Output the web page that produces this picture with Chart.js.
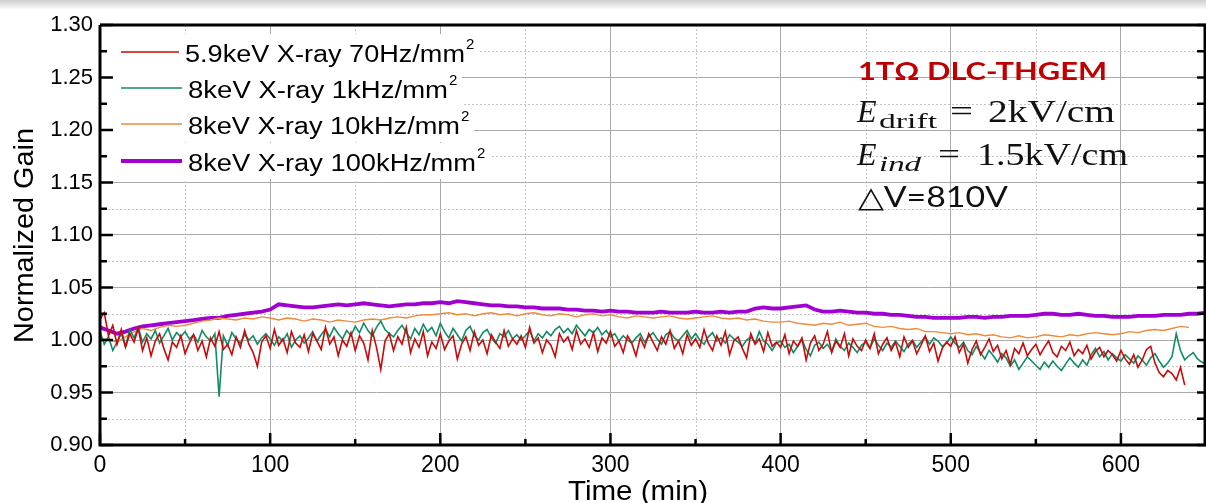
<!DOCTYPE html>
<html>
<head>
<meta charset="utf-8">
<script src="https://cdn.jsdelivr.net/npm/chart.js@4"></script>
<style>
  html, body { margin: 0; padding: 0; background: #fff; }
  canvas { display: block; }
</style>
</head>
<body>
<canvas id="gainChart" width="1206" height="503"></canvas>
<script>
// sampling step of the traces (min)
const STEP_FAST = 2.5;
const STEP_SLOW = 5;

const seriesNames = [
  ['5.9keV X-ray 70Hz/mm', '2'],
  ['8keV X-ray 1kHz/mm', '2'],
  ['8keV X-ray 10kHz/mm', '2'],
  ['8keV X-ray 100kHz/mm', '2']
];
const xTitle = 'Time (min)';
const yTitle = 'Normalized Gain';

// 5.9keV, 70Hz/mm2, every 2.5 min from 0
const red70Hz = [
  1.020, 1.026, 1.004, 1.014, 0.996, 1.010, 0.993, 1.006, 0.998, 1.011,
  0.990, 1.002, 0.985, 0.999, 1.006, 0.992, 0.981, 0.998, 0.993, 1.004,
  0.987, 0.997, 1.005, 0.990, 0.999, 0.984, 1.002, 0.994, 1.008, 0.991,
  0.996, 0.986, 1.003, 0.993, 1.009, 0.996, 0.988, 0.975, 0.998, 1.004,
  0.992, 1.010, 0.995, 1.001, 0.988, 1.008, 0.997, 0.993, 1.005, 0.989,
  1.006, 0.999, 0.991, 1.012, 0.996, 1.003, 0.985, 1.000, 0.994, 1.007,
  0.990, 1.004, 0.997, 0.981, 1.009, 0.993, 0.972, 0.999, 1.006, 0.990,
  1.003, 0.996, 1.012, 0.988, 1.001, 0.993, 1.008, 0.985, 0.998, 0.992,
  1.006, 0.991, 0.999, 1.004, 0.982, 0.996, 1.003, 0.990, 1.008, 0.995,
  1.000, 0.987, 1.005, 0.998, 0.992, 1.009, 0.994, 1.001, 0.996, 1.004,
  0.993, 1.012, 0.997, 1.002, 0.988, 1.000, 0.995, 0.984, 1.006, 0.998,
  1.003, 0.991, 1.009, 0.996, 1.001, 0.993, 1.007, 0.989, 1.002, 0.997,
  1.008, 0.994, 0.999, 0.988, 1.004, 0.997, 0.985, 1.002, 0.993, 1.006,
  0.998, 0.990, 1.003, 0.996, 1.009, 0.992, 0.999, 0.987, 1.005, 0.995,
  1.001, 0.993, 1.010, 0.997, 0.990, 1.004, 0.995, 1.008, 0.986, 0.999,
  1.003, 0.992, 0.983, 1.006, 0.996, 1.001, 0.989, 1.007, 0.994, 0.998,
  0.993, 1.005, 0.987, 0.999, 0.994, 1.002, 0.981, 0.997, 1.004, 0.990,
  0.996, 1.008, 0.988, 0.999, 0.993, 1.006, 0.985, 1.001, 0.994, 0.990,
  1.000, 0.992, 1.006, 0.987, 0.996, 1.002, 0.990, 0.998, 0.984, 1.003,
  0.993, 0.999, 0.987, 0.995, 1.004, 0.989, 0.997, 0.980, 0.992, 0.998,
  0.994, 1.003, 0.988, 0.996, 0.978, 0.991, 0.999, 0.986, 0.993, 1.001,
  0.989, 0.995, 0.982, 0.990, 0.977, 0.992, 0.987, 0.997, 0.985, 0.991,
  0.996, 0.986, 0.993, 0.999, 0.988, 0.984, 0.994, 0.990, 0.998, 0.985,
  0.991, 0.987, 0.995, 0.982, 0.989, 0.993, 0.984, 0.990, 0.986, 0.980,
  0.990, 0.982, 0.977, 0.986, 0.974, 0.981, 0.991, 0.994, 0.978, 0.969,
  0.965, 0.971, 0.968, 0.962, 0.974, 0.957
];

// 8keV, 1kHz/mm2, every 2.5 min from 0
const green1kHz = [
  1.008, 0.996, 1.003, 0.990, 0.998, 1.006, 0.994, 1.010, 1.002, 1.012,
  0.998, 1.006, 1.001, 1.009, 0.997, 1.004, 1.011, 1.000, 1.007, 1.003,
  1.008, 1.001, 1.005, 0.998, 1.009, 1.003, 0.999, 1.006, 0.946, 1.004,
  0.995, 1.007, 1.001, 0.997, 1.005, 1.000, 1.004, 0.996, 1.002, 1.006,
  1.001, 0.995, 1.003, 0.999, 1.006, 0.993, 1.000, 1.004, 0.997, 1.002,
  1.008, 0.999, 1.005, 1.010, 1.003, 1.012, 1.006, 1.001, 1.009, 1.004,
  1.013, 1.007, 1.016, 1.009, 1.004, 1.012, 1.018, 1.010, 1.006, 1.003,
  1.009, 1.014, 1.007, 1.001, 1.011, 1.005, 1.015, 1.008, 1.012, 1.004,
  1.016, 1.008, 1.002, 1.011, 1.005, 0.999, 1.009, 1.013, 1.004, 1.000,
  1.007, 1.010, 1.002, 0.997, 1.006, 1.003, 1.009, 1.001, 1.005, 1.000,
  1.004, 1.009, 0.999, 1.006, 1.002, 1.008, 1.004, 1.010, 1.013, 1.007,
  1.011, 1.006, 1.014, 1.009, 1.004, 1.010, 1.007, 1.012, 1.005, 1.009,
  1.003, 1.006, 0.999, 1.004, 1.000, 0.997, 1.002, 1.006, 0.998, 1.003,
  1.007, 1.001, 0.996, 1.005, 1.008, 1.002, 0.999, 1.004, 1.009, 1.001,
  1.006, 1.000, 0.996, 1.003, 1.007, 0.999, 1.002, 0.997, 1.005, 1.001,
  0.998, 0.994, 1.000, 1.003, 0.997, 1.008, 0.999, 0.996, 0.990, 0.997,
  0.999, 0.993, 0.996, 0.988, 0.994, 1.000, 0.991, 0.985, 0.995, 0.998,
  0.992, 0.996, 0.989, 1.001, 0.994, 0.990, 0.997, 0.993, 0.988, 0.995,
  0.998, 0.992, 1.001, 0.995, 0.990, 0.997, 0.993, 0.999, 0.994, 0.989,
  0.996, 1.000, 0.993, 0.998, 1.003, 0.996, 1.002, 0.999, 0.994, 0.997,
  1.003, 0.997, 0.993, 0.998, 0.990, 0.986, 0.994, 0.988, 0.982, 0.990,
  0.985, 0.979, 0.987, 0.983, 0.975, 0.981, 0.972, 0.978, 0.984, 0.980,
  0.976, 0.972, 0.979, 0.974, 0.980, 0.975, 0.971, 0.977, 0.983, 0.978,
  0.974, 0.981, 0.976, 0.986, 0.992, 0.984, 0.989, 0.981, 0.987, 0.983,
  0.980, 0.986, 0.982, 0.978, 0.985, 0.981, 0.976, 0.983, 0.987, 0.980,
  0.974, 0.978, 0.984, 1.006, 0.990, 0.981, 0.985, 0.988, 0.982, 0.979,
  0.977
];

// 8keV, 10kHz/mm2, every 5 min from 0
const orange10kHz = [
  1.002, 1.000, 0.998, 1.003, 1.008, 1.011, 1.009, 1.012, 1.014, 1.013,
  1.014, 1.016, 1.018, 1.019, 1.021, 1.020, 1.019, 1.021, 1.020, 1.022,
  1.021, 1.019, 1.021, 1.020, 1.018, 1.020, 1.019, 1.017, 1.019, 1.018,
  1.017, 1.019, 1.020, 1.019, 1.021, 1.022, 1.021, 1.023, 1.024, 1.024,
  1.025, 1.026, 1.024, 1.025, 1.023, 1.025, 1.026, 1.024, 1.025, 1.023,
  1.025, 1.026, 1.024, 1.023, 1.025, 1.024, 1.022, 1.024, 1.025, 1.023,
  1.024, 1.022, 1.021, 1.023, 1.022, 1.021, 1.022, 1.023, 1.021, 1.020,
  1.021, 1.022, 1.023, 1.021, 1.020, 1.021, 1.019, 1.020, 1.018, 1.017,
  1.017, 1.018, 1.016, 1.015, 1.014, 1.016, 1.015, 1.017, 1.014, 1.015,
  1.016, 1.013, 1.012, 1.013, 1.011, 1.010, 1.011, 1.008, 1.008, 1.007,
  1.006, 1.007, 1.005, 1.006, 1.004, 1.005, 1.003, 1.002, 1.004, 1.002,
  1.003, 1.005, 1.004, 1.003, 1.005, 1.004, 1.006, 1.007, 1.006, 1.005,
  1.006, 1.008, 1.007, 1.009, 1.010, 1.009, 1.011, 1.013, 1.012
];

// 8keV, 100kHz/mm2, every 5 min from 0
const purple100kHz = [
  1.012, 1.009, 1.006, 1.008, 1.011, 1.013, 1.014, 1.015, 1.016, 1.017,
  1.018, 1.019, 1.020, 1.021, 1.021, 1.023, 1.024, 1.025, 1.026, 1.027,
  1.029, 1.034, 1.033, 1.032, 1.031, 1.031, 1.032, 1.033, 1.034, 1.033,
  1.034, 1.035, 1.034, 1.033, 1.032, 1.033, 1.034, 1.034, 1.035, 1.035,
  1.036, 1.035, 1.037, 1.036, 1.035, 1.034, 1.033, 1.033, 1.032, 1.032,
  1.031, 1.031, 1.030, 1.030, 1.030, 1.029, 1.029, 1.028, 1.028, 1.027,
  1.028, 1.027, 1.027, 1.026, 1.026, 1.026, 1.027, 1.026, 1.026, 1.026,
  1.027, 1.026, 1.026, 1.027, 1.026, 1.027, 1.027, 1.030, 1.031, 1.030,
  1.030, 1.031, 1.032, 1.033, 1.029, 1.027, 1.027, 1.028, 1.027, 1.026,
  1.026, 1.025, 1.025, 1.024, 1.024, 1.023, 1.022, 1.022, 1.021, 1.021,
  1.021, 1.021, 1.022, 1.022, 1.021, 1.022, 1.022, 1.023, 1.023, 1.023,
  1.024, 1.025, 1.025, 1.024, 1.024, 1.025, 1.024, 1.023, 1.023, 1.022,
  1.022, 1.022, 1.023, 1.023, 1.023, 1.024, 1.024, 1.024, 1.025, 1.025,
  1.026
];

const yTicks = { min: 0.90, max: 1.30, step: 0.05 };
const xTicks = { min: 0, max: 650, step: 100 };

const colors = ['#c80a0a', '#128a66', '#f08a3a', '#a000d0'];
const widths = [1.6, 1.6, 1.4, 3.8];

const toPoints = (arr, step) => arr.map((v, i) => ({ x: i * step, y: v }));

const SANS = '"Liberation Sans", Arial, sans-serif';
const SERIF = '"Liberation Serif", "DejaVu Serif", serif';

// draw text squeezed/stretched to a given width
function fitText(ctx, text, x, y, font, w) {
  ctx.font = font;
  const m = ctx.measureText(text).width;
  ctx.save();
  ctx.translate(x, y);
  ctx.scale(w / m, 1);
  ctx.fillText(text, 0, 0);
  ctx.restore();
}

const pagePlugin = {
  id: 'page',
  beforeDraw(chart) {
    const ctx = chart.ctx;
    ctx.save();
    ctx.fillStyle = '#fff';
    ctx.fillRect(0, 0, chart.width, chart.height);
    const g = ctx.createLinearGradient(0, 0, 0, 10);
    g.addColorStop(0, '#cfcfcf');
    g.addColorStop(1, '#ffffff');
    ctx.fillStyle = g;
    ctx.fillRect(0, 0, chart.width, 10);
    ctx.restore();
  },
  beforeDatasetsDraw(chart) {
    // dashed minor grid
    const { ctx, chartArea: a, scales: { x, y } } = chart;
    ctx.save();
    ctx.strokeStyle = '#c4c4c4';
    ctx.lineWidth = 1;
    ctx.setLineDash([2, 2]);
    ctx.beginPath();
    for (let v = yTicks.min + yTicks.step / 2; v < yTicks.max; v += yTicks.step) {
      const py = Math.round(y.getPixelForValue(v)) + 0.5;
      ctx.moveTo(a.left, py); ctx.lineTo(a.right, py);
    }
    for (let v = xTicks.min + xTicks.step / 2; v < xTicks.max; v += xTicks.step) {
      const px = Math.round(x.getPixelForValue(v)) + 0.5;
      ctx.moveTo(px, a.top); ctx.lineTo(px, a.bottom);
    }
    ctx.stroke();
    ctx.restore();
  },
  afterDatasetsDraw(chart) {
    const ctx = chart.ctx;
    const a = chart.chartArea;
    ctx.save();
    // legend
    const rows = [52, 88, 124, 161];
    const textW = [280, 260, 272, 288];
    ctx.textBaseline = 'alphabetic';
    rows.forEach((ry, i) => {
      const tx = i === 0 ? 185 : 188;
      ctx.fillStyle = '#fff';
      ctx.fillRect(a.left + 3, ry - 18, tx + textW[i] + 14 - a.left - 3, 36);
      ctx.strokeStyle = colors[i];
      ctx.lineWidth = widths[i];
      ctx.beginPath();
      ctx.moveTo(121, ry); ctx.lineTo(tx - 6, ry);
      ctx.stroke();
      ctx.fillStyle = '#000';
      fitText(ctx, seriesNames[i][0], tx, ry + 10, '23px ' + SANS, textW[i]);
      ctx.font = '15px ' + SANS;
      ctx.fillText(seriesNames[i][1], tx + textW[i] + 1, ry - 3);
    });

    // annotation
    ctx.fillStyle = '#c00000';
    fitText(ctx, '1TΩ DLC-THGEM', 858, 80, 'bold 25px Lato, sans-serif', 249);
    ctx.fillStyle = '#111';
    ctx.font = 'italic 32px ' + SERIF;
    ctx.fillText('E', 857, 122);
    fitText(ctx, 'drift', 879, 128, '22px ' + SERIF, 58);
    fitText(ctx, '=', 950, 121, '30px ' + SERIF, 23);
    fitText(ctx, '2kV/cm', 988, 122, '31px ' + SERIF, 127);
    ctx.font = 'italic 32px ' + SERIF;
    ctx.fillText('E', 857, 165);
    fitText(ctx, 'ind', 879, 171, 'italic 22px ' + SERIF, 42);
    fitText(ctx, '=', 938, 164, '30px ' + SERIF, 22);
    fitText(ctx, '1.5kV/cm', 977, 165, '31px ' + SERIF, 151);
    fitText(ctx, '△V=810V', 858, 207, '29px Lato, sans-serif', 150);
    ctx.restore();
  },
  afterDraw(chart) {
    const { ctx, chartArea: a, scales: { x, y } } = chart;
    ctx.save();
    ctx.strokeStyle = '#000';
    ctx.lineWidth = 3;
    ctx.beginPath();
    ctx.moveTo(a.left, a.top); ctx.lineTo(a.right, a.top);
    ctx.moveTo(a.left, a.top); ctx.lineTo(a.left, a.bottom);
    ctx.moveTo(a.left - 1.5, a.bottom); ctx.lineTo(a.right, a.bottom);
    ctx.moveTo(a.right - 1, a.top); ctx.lineTo(a.right - 1, a.bottom);
    ctx.stroke();
    // inward ticks
    ctx.lineWidth = 2.5;
    ctx.beginPath();
    for (let k = 0; k <= 16; k++) {
      const v = yTicks.min + k * yTicks.step / 2;
      const py = y.getPixelForValue(v);
      const len = k % 2 === 0 ? 13 : 7;
      ctx.moveTo(a.left, py); ctx.lineTo(a.left + len, py);
      ctx.moveTo(a.right, py); ctx.lineTo(a.right - 9, py);
    }
    for (let k = 0; k <= 13; k++) {
      const v = xTicks.min + k * xTicks.step / 2;
      const px = x.getPixelForValue(v);
      const len = k % 2 === 0 ? 12 : 6;
      ctx.moveTo(px, a.bottom); ctx.lineTo(px, a.bottom - len);
    }
    ctx.stroke();

    // axis titles
    ctx.fillStyle = '#000';
    ctx.textBaseline = 'alphabetic';
    fitText(ctx, xTitle, 568, 500, '28px ' + SANS, 140);
    ctx.translate(33, 343);
    ctx.rotate(-Math.PI / 2);
    fitText(ctx, yTitle, 0, 0, '27px ' + SANS, 215);
    ctx.restore();
  }
};

new Chart(document.getElementById('gainChart'), {
  type: 'line',
  data: {
    datasets: [
      { data: toPoints(red70Hz, STEP_FAST) },
      { data: toPoints(green1kHz, STEP_FAST) },
      { data: toPoints(orange10kHz, STEP_SLOW) },
      { data: toPoints(purple100kHz, STEP_SLOW) }
    ].map((d, i) => ({
      ...d,
      label: seriesNames[i].join(''),
      borderColor: colors[i],
      borderWidth: widths[i],
      pointRadius: 0,
      tension: 0,
      fill: false
    }))
  },
  options: {
    responsive: false,
    animation: false,
    devicePixelRatio: 1,
    layout: { padding: { top: 25, right: 0, left: 0, bottom: 0 } },
    plugins: { legend: { display: false }, tooltip: { enabled: false } },
    scales: {
      x: {
        type: 'linear',
        min: xTicks.min,
        max: xTicks.max,
        ticks: {
          stepSize: xTicks.step,
          includeBounds: false,
          color: '#000',
          padding: 7,
          maxRotation: 0,
          font: { family: SANS, size: 23 }
        },
        grid: { color: '#aaaaaa', lineWidth: 1, drawTicks: false },
        border: { display: false },
        afterFit(s) { s.height = 58; }
      },
      y: {
        min: yTicks.min,
        max: yTicks.max,
        ticks: {
          stepSize: yTicks.step,
          color: '#000',
          padding: 7,
          font: { family: SANS, size: 22 },
          callback: v => v.toFixed(2)
        },
        grid: { color: '#aaaaaa', lineWidth: 1, drawTicks: false },
        border: { display: false },
        afterFit(s) { s.width = 100; }
      }
    }
  },
  plugins: [pagePlugin]
});
</script>
</body>
</html>
